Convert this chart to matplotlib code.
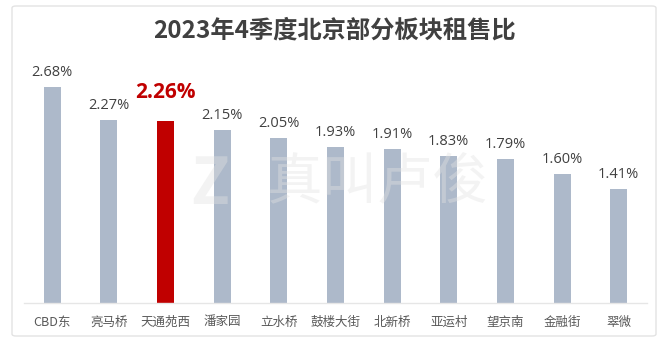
import matplotlib
matplotlib.use("Agg")
import matplotlib.pyplot as plt
from matplotlib.patches import FancyBboxPatch

plt.rcParams['font.family'] = ['Noto Sans CJK SC', 'DejaVu Sans']

title = "2023年4季度北京部分板块租售比"
districts = ["CBD东", "亮马桥", "天通苑西", "潘家园", "立水桥", "鼓楼大街",
             "北新桥", "亚运村", "望京南", "金融街", "翠微"]
ratios = [2.68, 2.27, 2.26, 2.15, 2.05, 1.93, 1.91, 1.83, 1.79, 1.60, 1.41]
highlight = "天通苑西"

W, H = 660, 338
fig = plt.figure(figsize=(W / 100, H / 100), dpi=100)
fig.patch.set_facecolor("white")

# card frame
card = FancyBboxPatch((12 / W, (H - 336) / H), (656 - 12) / W, (336 - 6) / H,
                      boxstyle="round,pad=0,rounding_size=0.006",
                      transform=fig.transFigure, facecolor="none",
                      edgecolor="#E3E3E3", linewidth=1.0, zorder=-1)
fig.patches.append(card)

ax_left, ax_right = 24 / W, 647 / W
ax_bottom = (H - 303) / H
ax_top = (H - 40) / H
ax = fig.add_axes([ax_left, ax_bottom, ax_right - ax_left, ax_top - ax_bottom])
ax.set_facecolor("none")

x = list(range(len(districts)))
colors = ["#C00000" if d == highlight else "#ADB9CA" for d in districts]
ax.bar(x, ratios, width=0.3, color=colors, zorder=2)

ax.set_xlim(-0.5, len(districts) - 0.5)
ax.set_ylim(0, 3.263)

for xi, d, v in zip(x, districts, ratios):
    if d == highlight:
        ax.annotate(f"{v:.2f}%", (xi, v), xytext=(0, 13), textcoords="offset points",
                    ha="center", va="bottom", fontsize=15, fontweight="bold",
                    color="#C00000", family=["Open Sans", "DejaVu Sans"])
    else:
        ax.annotate(f"{v:.2f}%", (xi, v), xytext=(0, 5), textcoords="offset points",
                    ha="center", va="bottom", fontsize=10.5,
                    color="#404040", family=["Open Sans", "DejaVu Sans"])

for s in ["top", "right", "left"]:
    ax.spines[s].set_visible(False)
ax.spines["bottom"].set_color("#E6E6E6")
ax.spines["bottom"].set_linewidth(1.0)
ax.set_yticks([])
ax.set_xticks(x)
ax.set_xticklabels(districts, fontsize=9, color="#595959")
ax.tick_params(axis="x", length=0, pad=9)

# watermark
fig.text(210 / W, 1 - 185 / H, "Z", fontsize=46, fontweight="bold",
         color="#E2E2E2", alpha=0.4, ha="center", va="center", zorder=5)
fig.text(378 / W, 1 - 183 / H, "真叫卢俊", fontsize=40,
         color="#E2E2E2", alpha=0.4, ha="center", va="center", zorder=5)

fig.text(335 / W, 1 - 31 / H, title, fontsize=17.5, fontweight="bold",
         color="#404040", ha="center", va="center")

fig.savefig("out.png", dpi=100, facecolor="white")
